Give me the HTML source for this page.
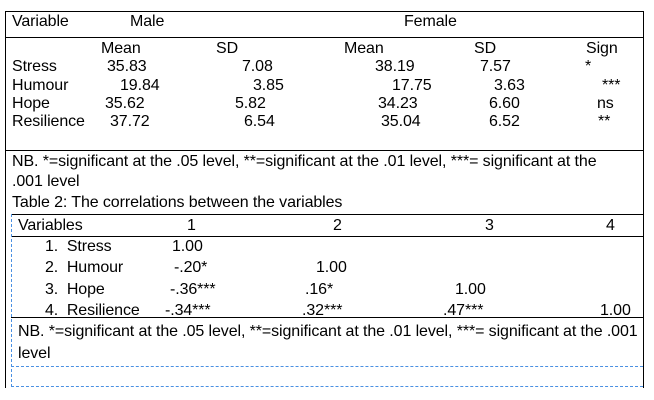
<!DOCTYPE html>
<html><head><meta charset="utf-8"><style>
body{margin:0;width:654px;height:400px;background:#fff;position:relative;overflow:hidden;font-family:"Liberation Sans",Arial,sans-serif;font-size:16px;color:#000}
.t{position:absolute;white-space:nowrap;line-height:16px;letter-spacing:-0.1px;margin-top:2px}
.h{position:absolute;height:1px;background:#000}
.v{position:absolute;width:1px;background:#000}
.dh{position:absolute;height:0;border-top:1px dashed #4a90e2}
.dv{position:absolute;width:0;border-left:1px dashed #4a90e2}
</style></head><body>
<div class="h" style="left:5px;top:11px;width:639px"></div>
<div class="v" style="left:5px;top:11px;height:377px"></div>
<div class="v" style="left:643px;top:11px;height:377px"></div>
<div class="h" style="left:5px;top:37px;width:639px"></div>
<div class="h" style="left:5px;top:150px;width:639px"></div>
<div class="h" style="left:11px;top:214px;width:633px"></div>
<div class="h" style="left:11px;top:236px;width:633px"></div>
<div class="h" style="left:11px;top:317px;width:633px"></div>
<div class="dv" style="left:11px;top:214px;height:173px"></div>
<div class="dh" style="left:11px;top:366px;width:632px"></div>
<div class="dh" style="left:11px;top:386px;width:632px"></div>

<div class="t" style="left:12px;top:12px">Variable</div>
<div class="t" style="left:130px;top:12px">Male</div>
<div class="t" style="left:404px;top:12px">Female</div>

<div class="t" style="left:101px;top:39px">Mean</div>
<div class="t" style="left:216px;top:39px">SD</div>
<div class="t" style="left:344px;top:39px">Mean</div>
<div class="t" style="left:474px;top:39px">SD</div>
<div class="t" style="left:586px;top:39px">Sign</div>

<div class="t" style="left:12px;top:57px">Stress</div>
<div class="t" style="left:107px;top:57px">35.83</div>
<div class="t" style="left:242px;top:57px">7.08</div>
<div class="t" style="left:375px;top:57px">38.19</div>
<div class="t" style="left:480px;top:57px">7.57</div>
<div class="t" style="left:585px;top:57px">*</div>

<div class="t" style="left:12px;top:76px">Humour</div>
<div class="t" style="left:120px;top:76px">19.84</div>
<div class="t" style="left:253px;top:76px">3.85</div>
<div class="t" style="left:392px;top:76px">17.75</div>
<div class="t" style="left:494px;top:76px">3.63</div>
<div class="t" style="left:602px;top:76px">***</div>

<div class="t" style="left:12px;top:94px">Hope</div>
<div class="t" style="left:105px;top:94px">35.62</div>
<div class="t" style="left:235px;top:94px">5.82</div>
<div class="t" style="left:378px;top:94px">34.23</div>
<div class="t" style="left:489px;top:94px">6.60</div>
<div class="t" style="left:597px;top:94px">ns</div>

<div class="t" style="left:12px;top:112px">Resilience</div>
<div class="t" style="left:110px;top:112px">37.72</div>
<div class="t" style="left:244px;top:112px">6.54</div>
<div class="t" style="left:381px;top:112px">35.04</div>
<div class="t" style="left:489px;top:112px">6.52</div>
<div class="t" style="left:598px;top:112px">**</div>

<div class="t" style="left:12px;top:152px">NB. *=significant at the .05 level, **=significant at the .01 level, ***= significant at the</div>
<div class="t" style="left:12px;top:172px">.001 level</div>
<div class="t" style="left:12px;top:193px">Table 2: The correlations between the variables</div>

<div class="t" style="left:18px;top:216px">Variables</div>
<div class="t" style="left:187px;top:216px">1</div>
<div class="t" style="left:333px;top:216px">2</div>
<div class="t" style="left:485px;top:216px">3</div>
<div class="t" style="left:606px;top:216px">4</div>

<div class="t" style="left:45px;top:237px">1.&nbsp; Stress</div>
<div class="t" style="left:172px;top:237px">1.00</div>
<div class="t" style="left:45px;top:258px">2.&nbsp; Humour</div>
<div class="t" style="left:174px;top:258px">-.20*</div>
<div class="t" style="left:316px;top:258px">1.00</div>
<div class="t" style="left:45px;top:280px">3.&nbsp; Hope</div>
<div class="t" style="left:170px;top:280px">-.36***</div>
<div class="t" style="left:305px;top:280px">.16*</div>
<div class="t" style="left:455px;top:280px">1.00</div>
<div class="t" style="left:45px;top:301px">4.&nbsp; Resilience</div>
<div class="t" style="left:165px;top:301px">-.34***</div>
<div class="t" style="left:302px;top:301px">.32***</div>
<div class="t" style="left:443px;top:301px">.47***</div>
<div class="t" style="left:600px;top:301px">1.00</div>

<div class="t" style="left:18px;top:322px;width:625px;overflow:hidden">NB. *=significant at the .05 level, **=significant at the .01 level, ***= significant at the .001</div>
<div class="t" style="left:18px;top:344px">level</div>
</body></html>
